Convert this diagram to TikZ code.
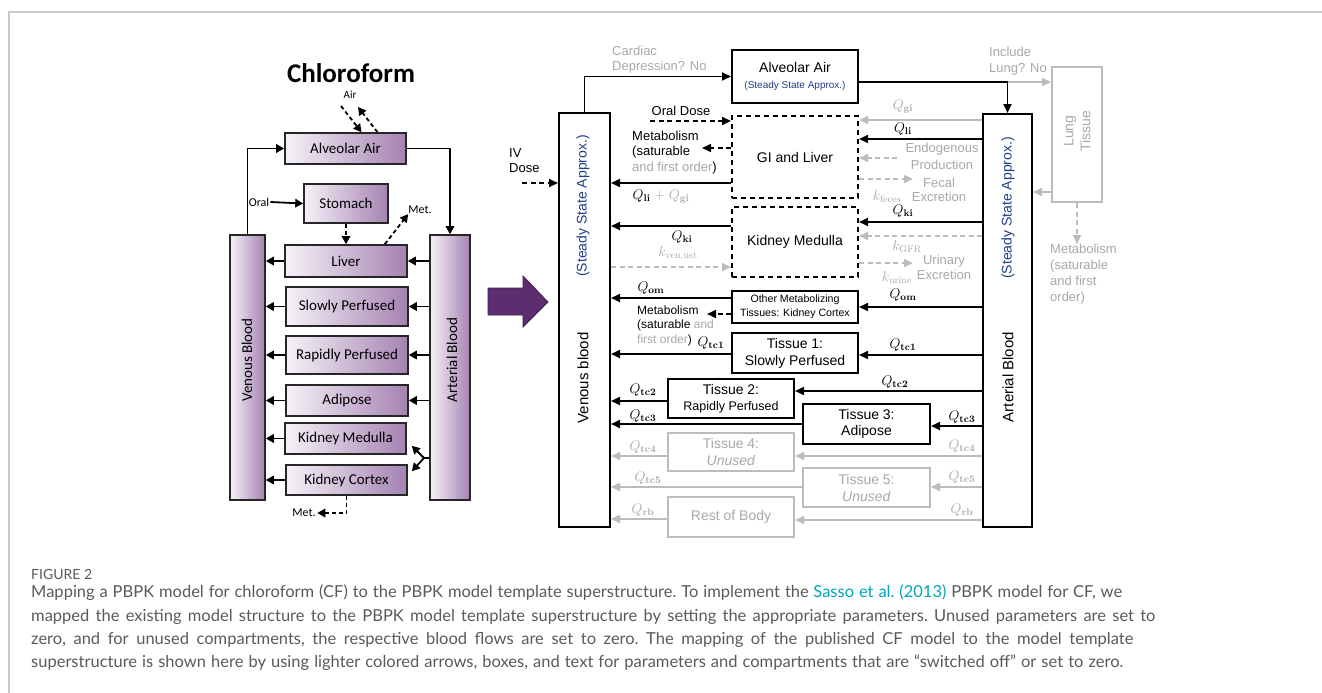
\documentclass[tikz,border=0pt]{standalone}
\usepackage{fix-cm}
\usepackage[no-math]{fontspec}
\setmainfont{Liberation Sans}
\newfontfamily\calfont{Carlito}
\newfontfamily\capfont{Lato}
\usetikzlibrary{arrows.meta,calc}
\definecolor{gtx}{RGB}{168,168,168}
\definecolor{gln}{RGB}{188,188,188}
\definecolor{sblue}{RGB}{32,62,140}
\definecolor{plight}{RGB}{246,242,248}
\definecolor{pdark}{RGB}{165,130,178}
\definecolor{parrow}{RGB}{93,45,112}
\definecolor{capgray}{RGB}{90,90,90}
\definecolor{cteal}{RGB}{0,165,185}
\definecolor{framegray}{RGB}{200,200,200}
\newcommand{\fsz}[2]{\fontsize{#1}{#2}\selectfont}
\tikzset{
  sz/.style 2 args={minimum width=#1pt,minimum height=#2pt},
  lbx/.style={draw=black!85,line width=1.6pt,left color=plight,right color=pdark,inner sep=0pt,font=\calfont\fsz{15}{18}},
  lbar/.style={draw=black!85,line width=1.6pt,left color=plight,right color=pdark,inner sep=0pt},
  larr/.style={line width=1.8pt,-{Triangle[length=8pt,width=8.5pt]}},
  ldarr/.style={larr,dash pattern=on 4pt off 3pt},
  rbx/.style={draw=black,line width=2pt,inner sep=0pt,align=center,font=\fsz{14}{17}},
  gbx/.style={draw=gln,line width=2pt,inner sep=0pt,align=center,text=gtx,font=\fsz{14}{17}},
  dbx/.style={rbx,dash pattern=on 5pt off 4pt},
  arr/.style={line width=1.7pt,-{Triangle[length=9pt,width=8pt]}},
  garr/.style={arr,color=gln},
  darr/.style={arr,dash pattern=on 5pt off 3.5pt},
  gdarr/.style={garr,dash pattern=on 5pt off 3.5pt},
  lbl/.style={inner sep=0pt,font=\fsz{13}{15.5}},
  glbl/.style={lbl,text=gtx},
  q/.style={inner sep=0pt,font=\fsz{14}{16}},
  gq/.style={q,text=gtx},
  captxt/.style={anchor=west,inner sep=0pt,font=\capfont\frenchspacing\fsz{16.5}{19},text=capgray},
}
\begin{document}
\begin{tikzpicture}[x=1pt,y=-1pt]
\useasboundingbox (0,0) rectangle (1322,693);
\fill[white] (0,0) rectangle (1322,693);
\draw[framegray,line width=1.5pt] (9,693) -- (9,12) -- (1322,12);

% ---------------- left diagram ----------------
\node[font=\calfont\bfseries\fsz{27}{30}] (title) at (351,73) {Chloroform};
\node[font=\calfont\fsz{11}{13},inner sep=0pt] (air) at (350,95) {Air};
\node[lbx,sz={121}{31}] (alvL) at (345.5,148.5) {Alveolar Air};
\node[lbx,sz={84}{39}] (stom) at (346,203.5) {Stomach};
\node[lbx,sz={122}{32}] (liver) at (346,261) {Liver};
\node[lbx,sz={122}{39}] (slow) at (347,306.5) {Slowly Perfused};
\node[lbx,sz={122}{38}] (rapid) at (347,355) {Rapidly Perfused};
\node[lbx,sz={122}{31}] (adip) at (347,400.5) {Adipose};
\node[lbx,sz={121}{31}] (kmedL) at (345.5,438.5) {Kidney Medulla};
\node[lbx,sz={121}{30}] (kcorL) at (346.5,480) {Kidney Cortex};
\node[lbar,sz={35}{265}] (venL) at (247.5,367.5) {};
\node[lbar,sz={40}{265}] (artL) at (450,367.5) {};
\node[rotate=90,font=\calfont\fsz{15}{18}] (venLt) at (247,360) {Venous Blood};
\node[rotate=90,font=\calfont\fsz{15}{18}] (artLt) at (452,360) {Arterial Blood};
\node[font=\calfont\fsz{12}{14},inner sep=1pt] (oral) at (259,202) {Oral};
\node[font=\calfont\fsz{12}{14},inner sep=0pt] (metU) at (420,210) {Met.};
\node[font=\calfont\fsz{12}{14},inner sep=1.5pt] (metB) at (304,513) {Met.};
\coordinate (a1) at (341,106);
\coordinate (a2) at (358,107);
\coordinate (kb) at (424,458);

\draw[larr] (venL.north) |- (alvL.west);
\draw[larr] (alvL.east) -| (artL.north);
\draw[ldarr] (a1) -- ([xshift=16pt]alvL.north);
\draw[ldarr] ([xshift=32pt]alvL.north) -- (a2);
\draw[larr] (oral.east) -- (stom.west);
\draw[ldarr] (stom.south) -- (liver.north);
\draw[ldarr] ([xshift=-23pt]liver.north east) -- (metU.south west);
\foreach \n in {liver,slow,rapid,adip}{
  \draw[larr] (artL.west |- \n.east) -- (\n.east);
}
\foreach \n in {liver,slow,rapid,adip,kmedL,kcorL}{
  \draw[larr] (\n.west) -- (venL.east |- \n.west);
}
\draw[line width=1.8pt] (artL.west |- kb) -- (kb);
\draw[larr] (kb) -- ([xshift=5pt,yshift=9pt]kmedL.south east);
\draw[larr] (kb) -- ([xshift=4pt,yshift=-7pt]kcorL.north east);
\draw[ldarr] (kcorL.south) |- (metB.east);

% big arrow
\filldraw[fill=parrow,draw=parrow!70!black,line width=0.8pt] (488,288) -- (523,288) -- (523,276) -- (548,302) -- (523,327) -- (523,315) -- (488,315) -- cycle;

% ---------------- right diagram ----------------
\node[rbx,sz={126}{53}] (alvR) at (795,76.5) {Alveolar Air\\[-1pt]{\fsz{10}{12}\color{sblue}(Steady State Approx.)}};
\node[dbx,sz={126}{82}] (gi) at (795,157) {GI and Liver};
\node[dbx,sz={126}{70}] (kmR) at (795,242) {Kidney Medulla};
\node[rbx,sz={126}{32},font=\fsz{10.6}{14}] (oth) at (795,307) {Other Metabolizing\\Tissues: Kidney Cortex};
\node[rbx,sz={126}{40}] (t1) at (795,353) {Tissue 1:\\Slowly Perfused};
\node[rbx,sz={126}{39},font=\fsz{14}{16}] (t2) at (731,398.5) {Tissue 2:\\{\fsz{12.5}{15}Rapidly Perfused}};
\node[rbx,sz={127}{40},font=\fsz{14}{16}] (t3) at (866.5,424) {Tissue 3:\\Adipose};
\node[gbx,sz={126}{38}] (t4) at (731,452) {Tissue 4:\\\textit{Unused}};
\node[gbx,sz={127}{39}] (t5) at (866.5,487.5) {Tissue 5:\\\textit{Unused}};
\node[gbx,sz={126}{40}] (rb) at (731,517) {Rest of Body};
\node[rbx,sz={51}{414}] (venR) at (584.5,320) {};
\node[rbx,sz={49}{413}] (artR) at (1007.5,320.5) {};
\node[gbx,sz={50}{135}] (lung) at (1077,134.5) {};
\node[rotate=90,align=center,text=gtx,font=\fsz{14}{17}] (lungt) at (1077,131) {Lung\\Tissue};

\node[rotate=90,text=sblue,font=\fsz{14}{16}] (venRs) at (583,206) {(Steady State Approx.)};
\node[rotate=90,font=\fsz{15}{17}] (venRt) at (583,378) {Venous blood};
\node[rotate=90,text=sblue,font=\fsz{14}{16}] (artRs) at (1008,208) {(Steady State Approx.)};
\node[rotate=90,font=\fsz{15}{17}] (artRt) at (1008,377) {Arterial Blood};

\node[glbl,anchor=west,align=left,font=\fsz{13}{15}] (card) at (612,59.5) {Cardiac\\Depression? No};
\node[glbl,anchor=west,align=left,font=\fsz{13}{16}] (incl) at (989,61) {Include\\Lung? No};
\node[glbl,anchor=north west,align=left,font=\fsz{13}{16}] (lmet) at (1050,244) {Metabolism\\(saturable\\and first\\order)};
\node[lbl] (oraldose) at (681,111) {Oral Dose};
\node[lbl,anchor=west,align=left] (met1) at (632,152.5) {Metabolism\\(saturable\\{\color{gtx}and first order})};
\node[lbl,anchor=west,align=left,font=\fsz{13}{15}] (iv) at (509,160.5) {IV\\Dose};
\node[q] (qlig) at (661,197) {$Q_{\mathbf{li}}$ {\color{gtx}$+\;Q_{\mathbf{gi}}$}};
\node[gq] (qgiR) at (903,107) {$Q_{\mathbf{gi}}$};
\node[q] (qliR) at (903,129) {$Q_{\mathbf{li}}$};
\node[glbl,align=center,font=\fsz{13}{17}] (endo) at (942,156.5) {Endogenous\\Production};
\node[glbl,align=center,font=\fsz{13}{14.5}] (fecal) at (939,190) {Fecal\\Excretion};
\node[gq] (kfec) at (887,197) {$k_{\mathrm{feces}}$};
\node[q] (qkiR) at (903,211) {$Q_{\mathbf{ki}}$};
\node[gq] (kgfr) at (907,247) {$k_{\mathrm{GFR}}$};
\node[glbl,align=center,font=\fsz{13}{15}] (urin) at (944,267.5) {Urinary\\Excretion};
\node[gq] (kur) at (897,278) {$k_{\mathrm{urine}}$};
\node[q] (qomR) at (903,295) {$Q_{\mathbf{om}}$};
\node[q] (qtc1R) at (903,345) {$Q_{\mathbf{tc1}}$};
\node[q] (qtc2R) at (895,382) {$Q_{\mathbf{tc2}}$};
\node[q] (qtc3R) at (962,417) {$Q_{\mathbf{tc3}}$};
\node[gq] (qtc4R) at (962,446) {$Q_{\mathbf{tc4}}$};
\node[gq] (qtc5R) at (962,477) {$Q_{\mathbf{tc5}}$};
\node[gq] (qrbR) at (962,510) {$Q_{\mathbf{rb}}$};
\node[q] (qkiL) at (682,237) {$Q_{\mathbf{ki}}$};
\node[gq] (kven) at (678,253) {$k_{\mathrm{ven.ust}}$};
\node[q] (qomL) at (651,288) {$Q_{\mathbf{om}}$};
\node[lbl,anchor=west,align=left,font=\fsz{12}{14.5}] (met2) at (637,325.5) {Metabolism\\(saturable {\color{gtx}and}\\{\color{gtx}first order})};
\node[q] (qtc1L) at (711,343) {$Q_{\mathbf{tc1}}$};
\node[q] (qtc2L) at (643,390) {$Q_{\mathbf{tc2}}$};
\node[q] (qtc3L) at (643,416) {$Q_{\mathbf{tc3}}$};
\node[gq] (qtc4L) at (643,447) {$Q_{\mathbf{tc4}}$};
\node[gq] (qtc5L) at (648,478) {$Q_{\mathbf{tc5}}$};
\node[gq] (qrbL) at (643,510) {$Q_{\mathbf{rb}}$};

\coordinate (oralS) at (650,121);
\coordinate (metE) at (702,148);
\coordinate (ivS) at (522,183);
\coordinate (endS) at (897,158);
\coordinate (fecE) at (913,179);
\coordinate (urE) at (913,263);
\coordinate (met2E) at (707,314);

\draw[arr] (venR.north) |- (alvR.west);
\draw[arr] (alvR.east |- 0,82) -| (artR.north);
\draw[garr] (artR.north |- 0,82) -- (lung.west |- 0,82);
\draw[garr] (lung.west |- 0,192) -- (artR.east |- 0,192);
\draw[gdarr] (lung.south) -- (lung.south |- lmet.north);
\draw[darr] (oralS) -- (gi.west |- oralS);
\draw[darr] (gi.west |- metE) -- (metE);
\draw[darr] (ivS) -- (venR.west |- ivS);
\draw[arr] (gi.west |- 0,183) -- (venR.east |- 0,183);
\draw[garr] (artR.west |- 0,120) -- (gi.east |- 0,120);
\draw[arr] (artR.west |- 0,139) -- (gi.east |- 0,139);
\draw[gdarr] (endS) -- (gi.east |- endS);
\draw[gdarr] (gi.east |- fecE) -- (fecE);
\draw[arr] (artR.west |- 0,222) -- (kmR.east |- 0,222);
\draw[gdarr] (artR.west |- 0,236) -- (kmR.east |- 0,236);
\draw[gdarr] (kmR.east |- urE) -- (urE);
\draw[arr] (artR.west |- oth.east) -- (oth.east);
\draw[arr] (artR.west |- 0,355) -- (t1.east |- 0,355);
\draw[arr] (artR.west |- 0,391) -- (t2.east |- 0,391);
\draw[arr] (artR.west |- 0,426) -- (t3.east |- 0,426);
\draw[garr] (artR.west |- 0,456) -- (t4.east |- 0,456);
\draw[garr] (artR.west |- 0,487) -- (t5.east |- 0,487);
\draw[garr] (artR.west |- 0,520) -- (rb.east |- 0,520);
\draw[arr] (kmR.west |- 0,226) -- (venR.east |- 0,226);
\draw[gdarr] (venR.east |- 0,267) -- (kmR.west |- 0,267);
\draw[arr] (oth.west |- 0,298) -- (venR.east |- 0,298);
\draw[darr] (oth.west |- met2E) -- (met2E);
\draw[arr] (t1.west |- 0,354) -- (venR.east |- 0,354);
\draw[arr] (t2.west |- 0,401) -- (venR.east |- 0,401);
\draw[arr] (t3.west |- 0,424) -- (venR.east |- 0,424);
\draw[garr] (t4.west |- 0,456) -- (venR.east |- 0,456);
\draw[garr] (t5.west |- 0,487) -- (venR.east |- 0,487);
\draw[garr] (rb.west |- 0,519) -- (venR.east |- 0,519);

% ---------------- caption ----------------
\node[captxt,font=\capfont\fsz{14}{16}] (fig) at (31,574) {FIGURE 2};
\node[captxt] (c1) at (31,593) {\makebox[1091pt][s]{Mapping a PBPK model for chloroform (CF) to the PBPK model template superstructure. To implement the \textcolor{cteal}{Sasso et al. (2013)} PBPK model for CF, we}};
\node[captxt] (c2) at (31,617) {\makebox[1124pt][s]{mapped the existing model structure to the PBPK model template superstructure by setting the appropriate parameters. Unused parameters are set to}};
\node[captxt] (c3) at (31,640) {\makebox[1102pt][s]{zero, and for unused compartments, the respective blood flows are set to zero. The mapping of the published CF model to the model template}};
\node[captxt] (c4) at (31,663) {\makebox[1092pt][s]{superstructure is shown here by using lighter colored arrows, boxes, and text for parameters and compartments that are “switched off” or set to zero.}};
\end{tikzpicture}
\end{document}
